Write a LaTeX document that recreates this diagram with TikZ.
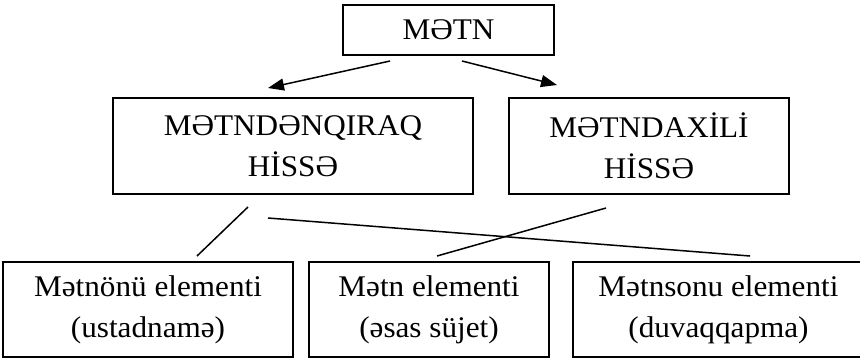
\documentclass[tikz,border=0pt]{standalone}
\usepackage{fontspec}
\setmainfont[FakeStretch=1.04]{Liberation Serif}
\usetikzlibrary{arrows.meta}
\tikzset{
  box/.style={draw, line width=1.6pt, inner sep=0pt, align=center,
    font=\fontsize{30}{41}\selectfont},
  conn/.style={line width=1.5pt},
  arr/.style={conn, -{Triangle[length=16pt,width=12pt]}}
}
\begin{document}
\begin{tikzpicture}[x=1pt,y=-1pt]
\useasboundingbox (0,0) rectangle (860,360);
\node[box, minimum width=211pt, minimum height=50pt] (top) at (448.5,30) {MƏTN};
\node[box, minimum width=360pt, minimum height=96pt] (ml) at (293,146) {MƏTNDƏNQIRAQ\\HİSSƏ};
\node[box, minimum width=280pt, minimum height=96pt] (mr) at (649,146) {MƏTNDAXİLİ\\HİSSƏ};
\node[box, minimum width=290pt, minimum height=95pt] (b1) at (148,309.5) {Mətnönü elementi\\(ustadnamə)};
\node[box, minimum width=240pt, minimum height=95pt] (b2) at (429,309.5) {Mətn elementi\\(əsas süjet)};
\node[box, minimum width=291pt, minimum height=95pt] (b3) at (718.5,309.5) {Mətnsonu elementi\\(duvaqqapma)};
% arrow end points
\coordinate (a1s) at (390,61);
\coordinate (a1e) at (268,88);
\coordinate (a2s) at (462,61);
\coordinate (a2e) at (557,85);
\draw[arr] (a1s) -- (a1e);
\draw[arr] (a2s) -- (a2e);
% crossing lines
\coordinate (l1s) at (248,207);
\coordinate (l1e) at (197,256);
\coordinate (l2s) at (268,218);
\coordinate (l2e) at (750,256);
\coordinate (l3s) at (606,208);
\coordinate (l3e) at (437,256);
\draw[conn] (l1s) -- (l1e);
\draw[conn] (l2s) -- (l2e);
\draw[conn] (l3s) -- (l3e);
\end{tikzpicture}
\end{document}
